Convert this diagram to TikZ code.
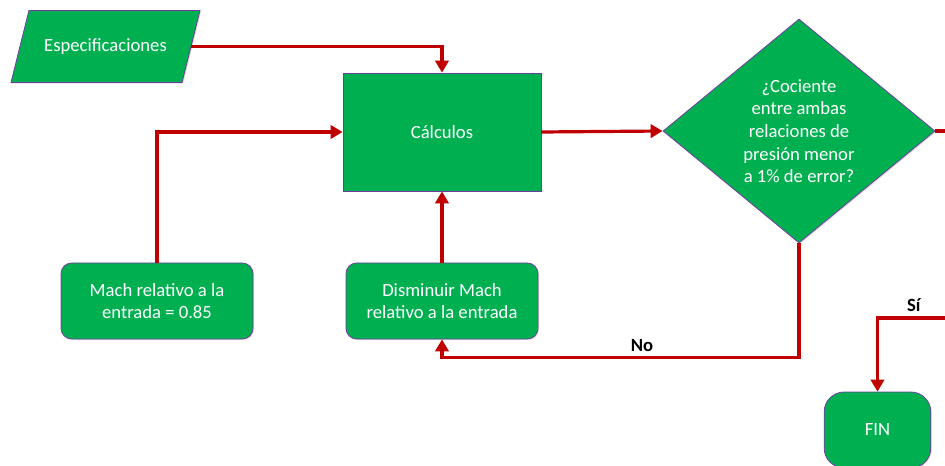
\documentclass[tikz,border=0pt]{standalone}
\usepackage{fontspec}
\setmainfont{Carlito}
\usetikzlibrary{positioning,arrows.meta,shapes.geometric,shadows}
\definecolor{BoxGreen}{RGB}{0,176,80}
\definecolor{BoxEdge}{RGB}{112,60,160}
\definecolor{FlowRed}{RGB}{192,0,0}

\begin{document}
\begin{tikzpicture}[
    x=0.75pt, y=-0.75pt,
    every node/.style={font=\fontsize{14}{17}\selectfont, align=center},
    box/.style={draw=BoxEdge, line width=0.6pt, fill=BoxGreen, text=white,
        drop shadow={opacity=0.25, shadow xshift=0.8pt, shadow yshift=-0.8pt}},
    flow/.style={draw=FlowRed, line width=2.4pt, -{Triangle[length=9pt,width=10pt]}},
    line/.style={draw=FlowRed, line width=2.4pt},
    tag/.style={font=\fontsize{14}{16}\selectfont\bfseries, text=black},
]
\useasboundingbox (0,0) rectangle (945,466);

\node[box, trapezium, trapezium left angle=76, trapezium right angle=104,
    trapezium stretches body=true, minimum width=141.75pt,
    inner xsep=0pt, inner ysep=21pt] (spec) at (105.5,46.5) {Especificaciones};
\node[box, rectangle, minimum width=148.5pt, minimum height=88.5pt] (calc) at (442,132) {Cálculos};
\node[box, diamond, minimum width=204pt, minimum height=168pt, inner sep=0pt] (dec) at (799,131)
    {¿Cociente\\entre ambas\\relaciones de\\presión menor\\a 1\% de error?};
\node[box, rectangle, rounded corners=8pt, minimum width=144pt, minimum height=57pt] (mach) at (157,301)
    {Mach relativo a la\\entrada = 0.85};
\node[box, rectangle, rounded corners=8pt, minimum width=144pt, minimum height=57pt] (dis) at (442,301)
    {Disminuir Mach\\relativo a la entrada};
\node[box, rectangle, rounded corners=15pt, minimum width=80pt, minimum height=57pt] (fin) at (877.5,430) {FIN};

\coordinate (outR) at (950,131);
\coordinate (inR) at (950,318);

\draw[flow] (spec.east) -| (calc.north);
\draw[flow] (mach.north) |- (calc.west);
\draw[flow] (calc.east) -- (dec.west);
\draw[line] (dec.east) -- (outR);
\draw[flow] (dec.south) -- ++(0,114) -| (dis.south) node[tag, pos=0.22, above] {No};
\draw[flow] (dis.north) -- (calc.south);
\draw[flow] (inR) -| (fin.north) node[tag, pos=0.25, above] {Sí};
\end{tikzpicture}
\end{document}
